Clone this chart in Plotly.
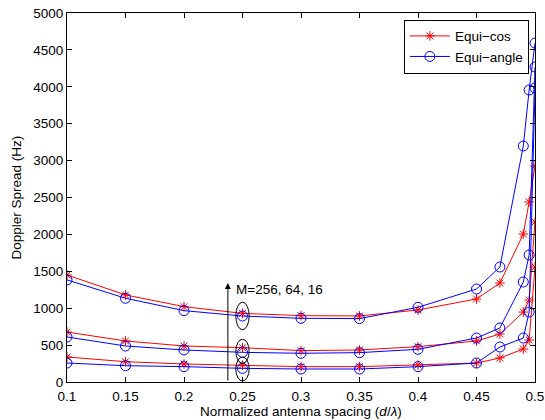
import plotly.graph_objects as go

x = [0.1, 0.15, 0.2, 0.25, 0.3, 0.35, 0.4, 0.45, 0.47, 0.49, 0.495, 0.5]

cos_256 = [1450, 1180, 1021, 930, 899, 895, 976, 1125, 1341, 2005, 2440, 2927]
cos_64 = [677, 556, 488, 465, 425, 434, 479, 556, 650, 948, 1111, 2168]
cos_16 = [339, 275, 244, 230, 208, 208, 230, 257, 325, 447, 569, 1558]

ang_256 = [1383, 1135, 967, 894, 863, 859, 1012, 1260, 1558, 3198, 3957, 4593]
ang_64 = [610, 488, 434, 402, 389, 398, 443, 596, 732, 1355, 1721, 4268]
ang_16 = [257, 221, 208, 185, 176, 176, 208, 257, 474, 596, 949, 3984]

x_ticks = [0.1, 0.15, 0.2, 0.25, 0.3, 0.35, 0.4, 0.45, 0.5]
y_ticks = [0, 500, 1000, 1500, 2000, 2500, 3000, 3500, 4000, 4500, 5000]

# ellipse annotations at d/lambda = 0.25 (center value, half height)
ell_x = 0.25
ell_centers = [895, 416, 176]
ell_half = [187, 163, 163]
ell_halfw = 0.0057
arrow_x = 0.2375
arrow_y0, arrow_y1 = 0, 1341
label_y = 1250
label_text = "M=256, 64, 16"

RED = "#ff0000"
BLUE = "#0000ff"
FONT = "Liberation Sans, Arial, sans-serif"

fig = go.Figure()
for i, ys in enumerate([cos_256, cos_64, cos_16]):
    fig.add_trace(go.Scatter(
        x=x, y=ys, mode="lines+markers", name="Equi\u2212cos",
        showlegend=(i == 0), legendgroup="cos",
        line=dict(color=RED, width=1),
        marker=dict(symbol="asterisk-open", size=8, color=RED,
                    line=dict(color=RED, width=1)),
    ))
for i, ys in enumerate([ang_256, ang_64, ang_16]):
    fig.add_trace(go.Scatter(
        x=x, y=ys, mode="lines+markers", name="Equi\u2212angle",
        showlegend=(i == 0), legendgroup="ang",
        line=dict(color=BLUE, width=1),
        marker=dict(symbol="circle-open", size=10, color=BLUE,
                    line=dict(color=BLUE, width=1)),
    ))

for c, h in zip(ell_centers, ell_half):
    fig.add_shape(type="circle", xref="x", yref="y",
                  x0=ell_x - ell_halfw, x1=ell_x + ell_halfw,
                  y0=c - h, y1=c + h,
                  line=dict(color="black", width=1))

fig.add_annotation(x=arrow_x, y=arrow_y1, ax=arrow_x, ay=arrow_y0,
                   xref="x", yref="y", axref="x", ayref="y",
                   text="", showarrow=True, arrowhead=2, arrowsize=1.2,
                   arrowwidth=1, arrowcolor="black")
fig.add_annotation(x=arrow_x, y=label_y, xref="x", yref="y", text=label_text,
                   showarrow=False, xanchor="left", xshift=6,
                   font=dict(size=13.5, color="black", family=FONT))

# axis titles
fig.add_annotation(x=0.5, y=0, xref="paper", yref="paper", yshift=-29,
                   text="Normalized antenna spacing (<i>d</i>/<i>\u03bb</i>)",
                   showarrow=False, xanchor="center", yanchor="middle",
                   font=dict(size=13.5, color="black", family=FONT))
fig.add_annotation(x=0, y=0.5, xref="paper", yref="paper", xshift=-51,
                   text="Doppler Spread (Hz)", textangle=-90,
                   showarrow=False, xanchor="center", yanchor="middle",
                   font=dict(size=13.5, color="black", family=FONT))

axis_common = dict(showline=True, linecolor="black", linewidth=1, mirror="ticks",
                   ticks="inside", ticklen=5, tickcolor="black",
                   showgrid=False, zeroline=False, automargin=False,
                   tickfont=dict(size=13.5, color="black", family=FONT))

fig.update_xaxes(range=[0.1, 0.5], tickvals=x_ticks, ticklabelstandoff=2,
                 ticktext=[f"{v:g}" for v in x_ticks], **axis_common)
fig.update_yaxes(range=[0, 5000], tickvals=y_ticks, **axis_common)

fig.update_layout(
    width=545, height=420,
    margin=dict(l=67, r=10, t=13, b=38),
    paper_bgcolor="white", plot_bgcolor="white",
    font=dict(family=FONT, size=13.5, color="black"),
    legend=dict(x=0.987, y=0.982, xanchor="right", yanchor="top",
                bgcolor="white", bordercolor="black", borderwidth=1,
                font=dict(size=13.5, family=FONT), tracegroupgap=0,
                itemwidth=40),
)

fig.write_html("out.html",
               config={"displayModeBar": False},
               post_script="document.body.style.margin='0px';document.body.style.overflow='hidden';")
